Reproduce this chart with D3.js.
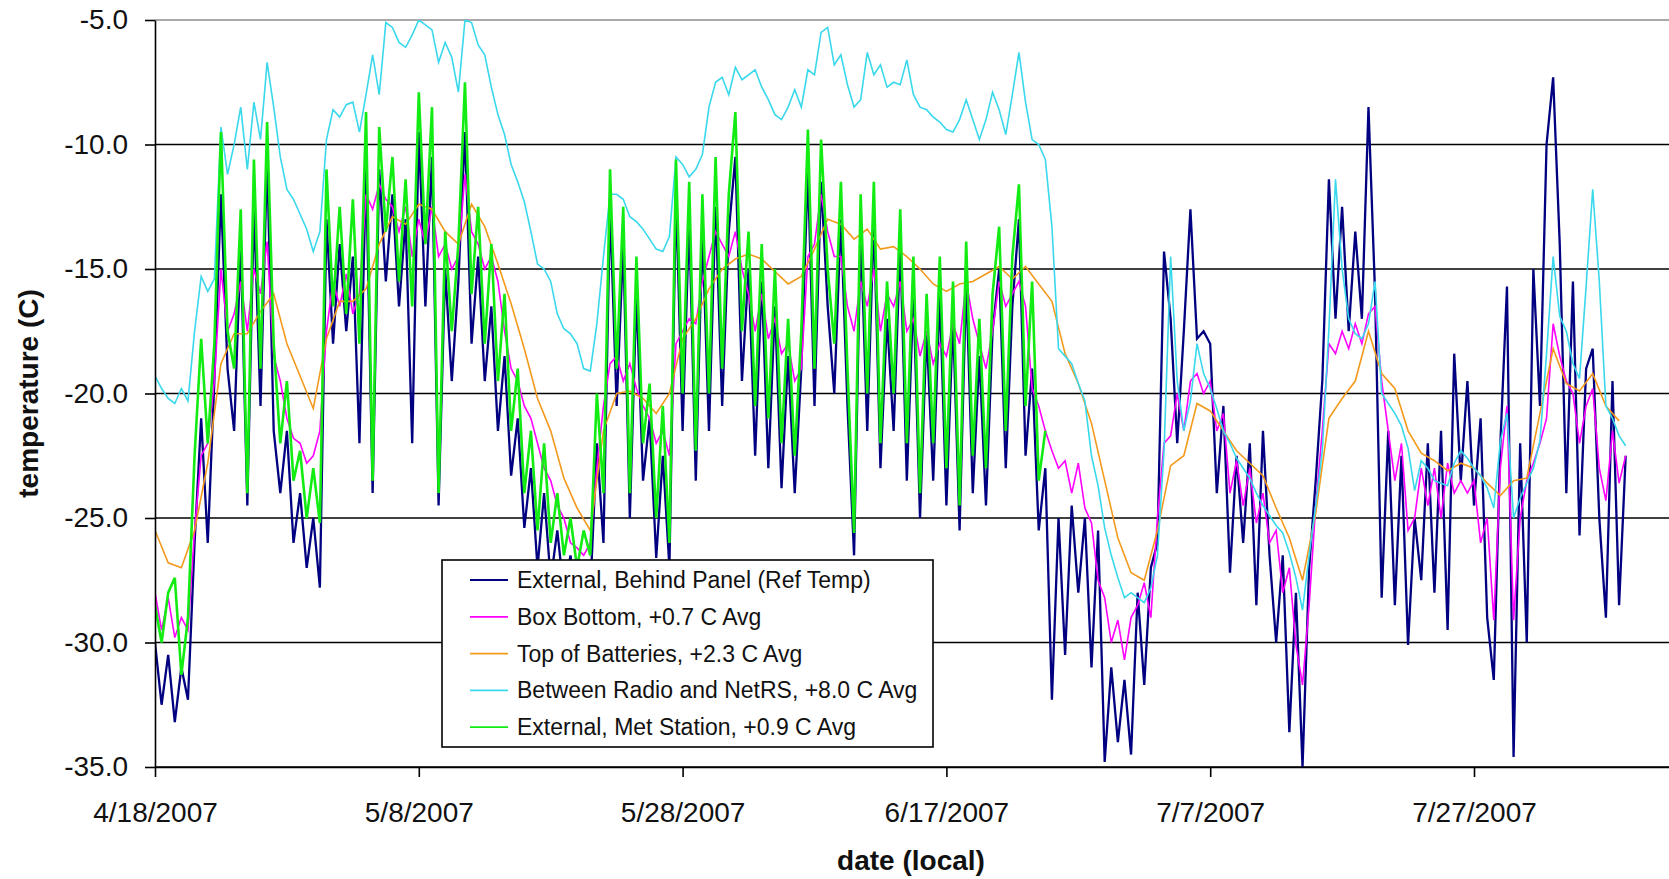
<!DOCTYPE html>
<html>
<head>
<meta charset="utf-8">
<script src="https://cdnjs.cloudflare.com/ajax/libs/d3/7.8.5/d3.min.js"></script>
<style>
  body { margin: 0; background: #fff; }
  svg { display: block; font-family: "Liberation Sans", Arial, sans-serif; }
</style>
</head>
<body>
<div id="chart"></div>
<script>
// ---- data (temperatures in C) ----
const startLabel = "4/18/2007";
const xTickLabels = ["4/18/2007", "5/8/2007", "5/28/2007", "6/17/2007", "7/7/2007", "7/27/2007"];
const yTickValues = [-35, -30, -25, -20, -15, -10, -5];
const seriesNames = [
    "External, Behind Panel (Ref Temp)",
    "Box Bottom, +0.7 C Avg",
    "Top of Batteries, +2.3 C Avg",
    "Between Radio and NetRS, +8.0 C Avg",
    "External, Met Station, +0.9 C Avg"
];
// sample spacing of each series, in days from 4/18/2007
const halfDay = 0.5;
const oneDay = 1;

// External, Behind Panel (every half day, highs and lows)
const behindPanel = [
    -30.0,-32.5,-30.5,-33.2,-31.0,-32.3,-26.0,-21.0,-26.0,-19.5,
    -12.0,-19.0,-21.5,-14.0,-24.5,-12.5,-20.5,-10.5,-21.5,-24.0,
    -21.5,-26.0,-24.0,-27.0,-25.0,-27.8,-13.0,-18.0,-14.0,-17.5,
    -14.5,-22.0,-11.0,-24.0,-11.0,-15.5,-12.0,-16.5,-13.0,-22.0,
    -9.5,-16.5,-10.5,-24.5,-15.0,-19.5,-15.5,-9.5,-18.0,-14.5,
    -19.5,-16.5,-21.5,-18.5,-23.3,-21.0,-25.4,-23.0,-27.0,-24.0,
    -27.5,-25.5,-28.0,-26.5,-28.5,-27.0,-28.0,-22.0,-26.0,-12.5,
    -20.5,-14.0,-25.0,-16.0,-23.5,-21.0,-26.6,-22.5,-27.0,-12.0,
    -21.5,-13.0,-23.5,-13.5,-21.5,-12.5,-20.5,-13.5,-10.5,-19.5,
    -15.0,-22.5,-15.5,-23.0,-16.5,-23.8,-18.5,-24.0,-19.0,-11.0,
    -20.5,-11.5,-16.5,-20.0,-13.0,-20.5,-26.5,-13.5,-21.5,-13.0,
    -23.0,-17.0,-21.5,-14.0,-23.5,-16.0,-25.0,-17.5,-23.5,-16.0,
    -24.5,-17.0,-25.5,-15.5,-24.0,-18.5,-24.5,-17.5,-15.0,-23.0,
    -16.5,-13.0,-22.5,-19.0,-25.5,-23.0,-32.3,-25.0,-30.5,-24.5,
    -28.0,-25.0,-31.0,-25.5,-34.8,-31.0,-34.0,-31.5,-34.5,-28.0,
    -31.7,-27.0,-26.0,-14.3,-17.0,-22.0,-17.5,-12.6,-17.8,-17.5,
    -18.0,-24.0,-20.5,-27.2,-22.5,-26.0,-22.0,-28.5,-21.5,-26.5,
    -30.0,-26.5,-33.6,-28.0,-35.0,-27.0,-23.5,-19.5,-11.4,-17.0,
    -12.5,-17.5,-13.5,-17.0,-8.5,-16.0,-28.2,-21.5,-28.5,-22.5,
    -30.1,-25.0,-27.5,-22.0,-28.0,-21.5,-29.5,-18.4,-23.5,-19.5,
    -24.5,-21.0,-29.0,-31.5,-22.0,-15.7,-34.6,-22.0,-30.0,-15.0,
    -20.5,-10.0,-7.3,-14.0,-24.0,-15.5,-25.7,-19.0,-18.2,-25.0,
    -29.0,-19.5,-28.5,-22.5
];

// Box Bottom (every half day)
const boxBottom = [
    -28.0,-29.5,-28.2,-29.8,-29.0,-29.5,-25.5,-22.5,-22.0,-19.5,
    -15.0,-17.5,-16.8,-15.5,-17.5,-15.0,-16.0,-13.9,-18.5,-19.5,
    -21.0,-21.8,-22.0,-22.8,-22.5,-21.5,-17.5,-15.5,-16.5,-15.2,
    -16.8,-16.0,-12.0,-12.6,-11.6,-12.2,-12.5,-13.5,-12.5,-14.5,
    -13.0,-14.0,-12.5,-14.5,-14.0,-15.0,-14.5,-11.2,-13.5,-14.0,
    -15.0,-14.5,-15.5,-17.5,-19.0,-19.5,-20.5,-21.0,-22.0,-23.0,
    -23.5,-24.5,-25.0,-26.0,-26.2,-26.5,-26.0,-23.0,-20.5,-18.8,
    -18.5,-19.5,-18.8,-19.8,-20.5,-21.0,-22.0,-21.5,-22.5,-18.0,
    -17.5,-17.0,-17.2,-15.5,-14.5,-13.5,-14.0,-14.5,-13.5,-15.0,
    -16.0,-17.5,-16.0,-17.8,-17.0,-18.4,-18.0,-19.5,-19.0,-14.5,
    -14.0,-12.0,-13.5,-14.5,-14.5,-16.5,-17.5,-15.5,-16.5,-15.0,
    -17.5,-16.0,-16.5,-15.5,-17.5,-17.0,-18.5,-17.5,-18.8,-18.0,
    -18.5,-17.2,-18.0,-15.5,-17.0,-18.0,-19.0,-17.5,-15.5,-16.5,
    -16.0,-15.5,-16.5,-19.8,-20.5,-21.5,-22.3,-23.0,-22.7,-24.0,
    -22.8,-24.6,-25.2,-27.5,-28.2,-30.0,-29.1,-30.7,-29.0,-28.5,
    -27.6,-29.0,-25.0,-22.0,-21.7,-20.0,-21.5,-19.5,-19.2,-20.0,
    -19.5,-21.5,-20.8,-24.0,-22.7,-24.5,-23.0,-25.2,-24.0,-26.0,
    -25.5,-28.0,-27.0,-30.1,-31.7,-28.5,-24.5,-21.5,-18.0,-18.4,
    -17.5,-18.2,-17.2,-18.0,-16.8,-16.5,-19.5,-21.5,-23.5,-22.0,
    -25.5,-25.0,-23.0,-24.5,-23.0,-25.0,-22.8,-24.0,-23.5,-24.0,
    -23.5,-26.0,-25.0,-29.1,-23.0,-20.5,-29.1,-25.0,-23.5,-22.8,
    -22.0,-21.0,-17.2,-18.5,-19.5,-20.0,-22.0,-20.5,-19.8,-23.0,
    -24.3,-21.5,-23.6,-22.5
];

// Top of Batteries (daily)
const topOfBatteries = [
    -25.5,-26.8,-27.0,-25.5,-22.8,-18.8,-17.6,-17.6,-16.7,-16.0,
    -18.0,-19.3,-20.6,-17.8,-16.3,-16.3,-15.8,-14.0,-12.9,-13.2,
    -12.4,-12.6,-13.5,-14.0,-12.4,-13.3,-14.8,-16.4,-18.2,-20.2,
    -21.5,-23.4,-24.6,-25.5,-21.5,-20.0,-19.9,-20.2,-20.8,-20.0,
    -17.8,-17.0,-15.8,-15.0,-14.6,-14.4,-14.6,-15.1,-15.6,-15.3,
    -14.2,-13.0,-13.2,-13.8,-13.4,-14.2,-14.1,-14.5,-15.0,-15.6,
    -15.9,-15.6,-15.5,-15.2,-14.9,-15.4,-14.9,-15.6,-16.3,-18.4,
    -19.6,-21.2,-23.5,-25.8,-27.2,-27.5,-25.5,-22.9,-22.5,-20.4,
    -20.7,-21.5,-22.3,-22.8,-23.3,-24.6,-25.8,-27.5,-24.8,-21.0,
    -20.2,-19.5,-17.5,-19.2,-19.8,-21.5,-22.4,-22.7,-23.1,-22.8,
    -23.0,-23.6,-24.1,-23.5,-23.4,-20.8,-18.2,-19.6,-19.9,-19.2,
    -20.5,-21.1
];

// Between Radio and NetRS (every half day)
const radioNetRS = [
    -19.3,-19.8,-20.2,-20.4,-19.8,-20.3,-17.5,-15.3,-15.9,-15.4,
    -9.3,-11.2,-10.0,-8.5,-11.0,-8.3,-9.8,-6.7,-8.5,-10.5,
    -11.8,-12.2,-12.8,-13.4,-14.3,-13.5,-9.8,-8.6,-8.9,-8.4,
    -8.3,-9.5,-8.0,-6.4,-8.0,-5.1,-5.3,-5.9,-6.1,-5.6,
    -5.0,-5.2,-5.4,-6.7,-5.9,-6.5,-7.9,-5.0,-5.1,-6.0,
    -6.4,-7.7,-8.8,-9.6,-10.8,-11.5,-12.3,-13.5,-14.8,-15.0,
    -15.5,-16.8,-17.4,-17.6,-18.0,-19.0,-19.1,-17.2,-14.5,-12.0,
    -12.0,-12.2,-12.9,-13.1,-13.4,-13.8,-14.2,-14.3,-13.7,-10.5,
    -10.8,-11.3,-11.0,-10.4,-8.5,-7.5,-7.3,-8.0,-6.9,-7.4,
    -7.2,-7.0,-7.7,-8.2,-8.8,-9.0,-8.5,-7.8,-8.5,-7.0,
    -7.2,-5.5,-5.3,-6.8,-6.4,-7.6,-8.5,-8.2,-6.3,-7.2,
    -6.8,-7.7,-7.5,-7.6,-6.6,-8.0,-8.5,-8.6,-8.9,-9.1,
    -9.4,-9.5,-9.0,-8.2,-9.0,-9.8,-9.0,-7.9,-8.6,-9.6,
    -8.0,-6.3,-8.3,-9.8,-10.0,-10.6,-13.3,-18.2,-18.5,-18.8,
    -19.6,-20.3,-22.5,-23.7,-25.4,-26.5,-27.4,-28.2,-28.0,-28.2,
    -28.4,-27.8,-26.5,-22.3,-14.5,-19.5,-21.5,-20.3,-18.0,-19.2,
    -19.8,-20.6,-21.5,-22.0,-22.6,-23.0,-23.4,-24.0,-24.5,-24.9,
    -25.3,-25.6,-26.4,-27.4,-28.7,-26.5,-24.5,-22.3,-17.4,-11.4,
    -15.0,-17.0,-17.6,-17.8,-17.2,-15.5,-20.0,-20.4,-20.8,-21.3,
    -22.2,-23.9,-22.7,-23.0,-23.5,-23.6,-23.7,-22.8,-22.3,-22.6,
    -23.0,-23.3,-23.8,-24.6,-21.9,-20.8,-25.0,-24.2,-23.6,-23.0,
    -21.9,-18.4,-14.5,-16.9,-17.5,-18.8,-19.4,-15.7,-11.8,-15.5,
    -20.5,-21.0,-21.7,-22.1
];

// External, Met Station (every half day, stops after ~6/24)
const metStation = [
    -28.5,-30.0,-28.0,-27.4,-31.3,-29.0,-22.5,-17.8,-22.0,-18.0,
    -9.5,-17.5,-19.0,-12.6,-24.0,-10.6,-19.0,-9.1,-18.0,-22.0,
    -19.5,-23.5,-22.3,-25.0,-23.0,-25.2,-11.0,-16.5,-12.5,-16.8,
    -12.2,-18.0,-8.7,-23.5,-9.3,-13.5,-10.5,-15.5,-11.4,-16.5,
    -7.9,-14.0,-8.5,-24.0,-13.5,-17.5,-14.0,-7.5,-16.0,-12.5,
    -18.0,-14.0,-19.5,-16.0,-21.5,-19.0,-24.0,-21.5,-25.5,-22.0,
    -26.0,-24.0,-26.5,-25.0,-27.0,-25.5,-26.5,-20.0,-24.0,-11.0,
    -19.0,-12.5,-24.0,-14.5,-22.0,-19.6,-25.0,-20.5,-26.0,-10.6,
    -20.0,-11.5,-22.3,-12.0,-20.0,-10.5,-19.0,-12.0,-8.7,-17.5,
    -13.5,-20.5,-14.0,-21.0,-15.0,-22.0,-17.0,-22.5,-17.5,-9.4,
    -19.0,-9.8,-15.0,-18.0,-11.5,-19.0,-25.6,-12.0,-20.0,-11.5,
    -22.0,-15.5,-20.0,-12.6,-22.0,-14.5,-24.0,-16.0,-22.0,-14.5,
    -23.0,-15.5,-24.5,-13.9,-22.5,-17.0,-23.0,-16.0,-13.3,-21.5,
    -14.5,-11.6,-20.5,-15.5,-23.5,-21.5
];

// ---- styles ----
const seriesColors = ["#000080", "#ff00ff", "#f39a1d", "#3ad8ec", "#12ec12"];
const seriesWidths = [2.3, 1.6, 1.6, 1.6, 2.6];

const W = 1669, H = 879;
const plot = { left: 155, right: 1672, top: 20, bottom: 767 };
const pxPerDay = 13.19;
const dayMs = 864e5;

function createViz() {
    const parse = d3.utcParse("%m/%d/%Y");
    const t0 = parse(startLabel);
    const spanDays = (plot.right - plot.left) / pxPerDay;

    const x = d3.scaleUtc()
        .domain([t0, new Date(+t0 + spanDays * dayMs)])
        .range([plot.left, plot.right]);
    const y = d3.scaleLinear().domain([-35, -5]).range([plot.bottom, plot.top]);

    const svg = d3.select("#chart").append("svg")
        .attr("width", W)
        .attr("height", H);

    svg.append("rect").attr("width", W).attr("height", H).attr("fill", "#fff");

    // horizontal grid lines
    svg.append("g").selectAll("line")
        .data(yTickValues)
        .join("line")
        .attr("x1", plot.left).attr("x2", W)
        .attr("y1", d => y(d)).attr("y2", d => y(d))
        .attr("stroke", d => d === -5 ? "#8c8c8c" : "#000")
        .attr("stroke-width", 1.4);

    // series
    svg.append("clipPath").attr("id", "plotClip")
        .append("rect")
        .attr("x", plot.left).attr("y", plot.top)
        .attr("width", plot.right - plot.left)
        .attr("height", plot.bottom - plot.top);

    const toPoints = (vals, step) => vals.map((v, i) => ({ date: new Date(+t0 + i * step * dayMs), v }));
    const series = [
        toPoints(behindPanel, halfDay),
        toPoints(boxBottom, halfDay),
        toPoints(topOfBatteries, oneDay),
        toPoints(radioNetRS, halfDay),
        toPoints(metStation, halfDay)
    ];

    const lineGen = d3.line().x(d => x(d.date)).y(d => y(d.v));

    const lines = svg.append("g").attr("clip-path", "url(#plotClip)");
    series.forEach((pts, i) => {
        lines.append("path")
            .datum(pts)
            .attr("d", lineGen)
            .attr("fill", "none")
            .attr("stroke", seriesColors[i])
            .attr("stroke-width", seriesWidths[i])
            .attr("stroke-linejoin", "miter");
    });

    // axes
    const yAxis = svg.append("g")
        .attr("transform", `translate(${plot.left},0)`)
        .call(d3.axisLeft(y).tickValues(yTickValues)
            .tickFormat(d => d.toFixed(1))
            .tickSize(10).tickSizeOuter(0).tickPadding(17));

    const xTicks = xTickLabels.map(parse);
    const xAxis = svg.append("g")
        .attr("transform", `translate(0,${plot.bottom})`)
        .call(d3.axisBottom(x).tickValues(xTicks)
            .tickFormat((d, i) => xTickLabels[i])
            .tickSize(10).tickSizeOuter(0).tickPadding(25));
    xAxis.select(".domain").attr("d", `M${plot.left},0.5H${W}`);

    [yAxis, xAxis].forEach(ax => {
        ax.select(".domain").attr("stroke", "#000").attr("stroke-width", 1.6);
        ax.selectAll(".tick line").attr("stroke", "#000").attr("stroke-width", 1.6);
        ax.selectAll(".tick text")
            .attr("fill", "#111")
            .style("font-size", "28px")
            .style("font-family", "'Liberation Sans', Arial, sans-serif");
    });

    // axis titles
    svg.append("text")
        .attr("transform", `translate(38,${(plot.top + plot.bottom) / 2}) rotate(-90)`)
        .attr("text-anchor", "middle")
        .attr("font-size", "28px")
        .attr("font-weight", "bold")
        .attr("fill", "#111")
        .text("temperature (C)");

    svg.append("text")
        .attr("x", 911)
        .attr("y", 870)
        .attr("text-anchor", "middle")
        .attr("font-size", "28px")
        .attr("font-weight", "bold")
        .attr("fill", "#111")
        .text("date (local)");

    // legend
    const legend = svg.append("g").attr("transform", "translate(442,560)");
    legend.append("rect")
        .attr("width", 491).attr("height", 187)
        .attr("fill", "#fff")
        .attr("stroke", "#000")
        .attr("stroke-width", 1.6);

    const rows = legend.selectAll("g.row")
        .data(seriesNames)
        .join("g")
        .attr("class", "row")
        .attr("transform", (d, i) => `translate(0,${20 + i * 36.8})`);
    rows.append("line")
        .attr("x1", 28).attr("x2", 66)
        .attr("stroke", (d, i) => seriesColors[i])
        .attr("stroke-width", 1.8);
    rows.append("text")
        .attr("x", 75)
        .attr("dy", "0.35em")
        .attr("font-size", "23px")
        .attr("fill", "#111")
        .text(d => d);
}

createViz();
</script>
</body>
</html>
